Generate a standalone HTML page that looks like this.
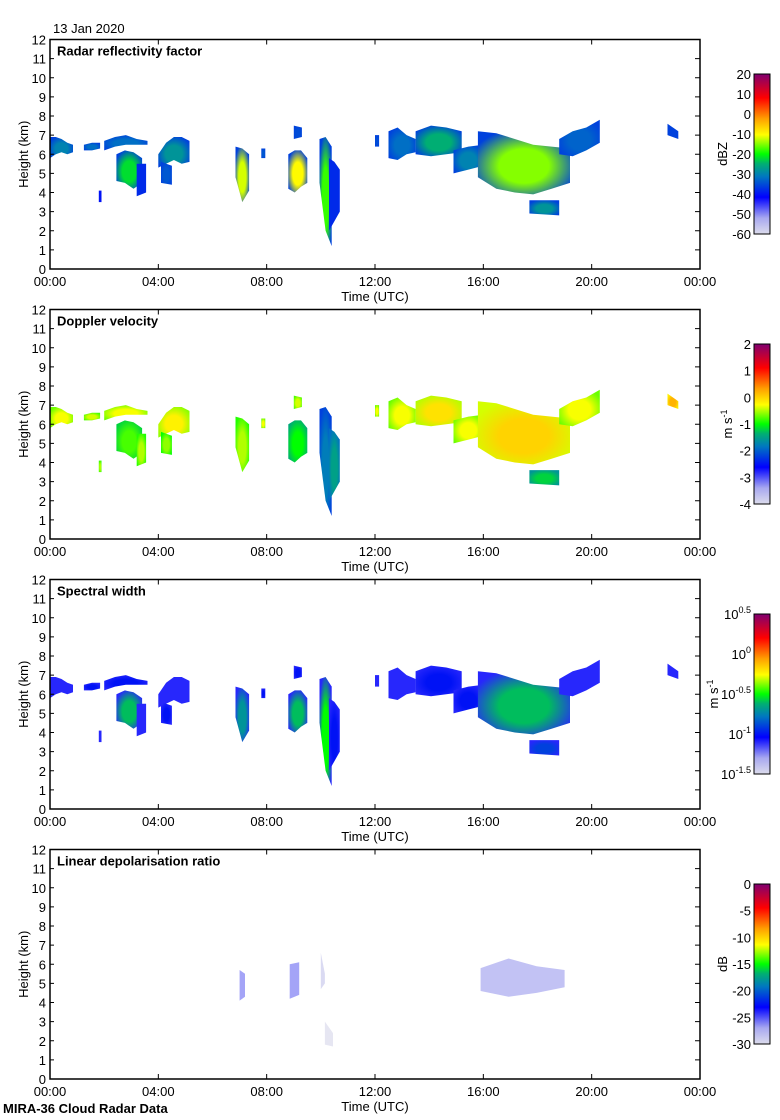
<!DOCTYPE html>
<html><head><meta charset="utf-8">
<style>
html,body{margin:0;padding:0;background:#fff;}
svg{display:block;font-family:"Liberation Sans",sans-serif;}
</style></head>
<body>
<svg id="chart" width="780" height="1120" viewBox="0 0 780 1120">
<text x="53" y="33" font-size="13">13 Jan 2020</text>
<text x="3" y="1113" font-size="13" font-weight="bold">MIRA-36 Cloud Radar Data</text>
</svg>
<script>
// ---- data ----
const panelTitles = ["Radar reflectivity factor","Doppler velocity","Spectral width","Linear depolarisation ratio"];
const xTickLabels = ["00:00","04:00","08:00","12:00","16:00","20:00","00:00"];
const yTickLabels = ["0","1","2","3","4","5","6","7","8","9","10","11","12"];
const cbRanges = [[-60,20],[-4,2],[-1.5,0.5],[-30,0]];
const cbTicks0 = ["20","10","0","-10","-20","-30","-40","-50","-60"];
const cbTicks1 = ["2","1","0","-1","-2","-3","-4"];
const cbTicks2 = ["0.5","0","-0.5","-1","-1.5"];
const cbTicks3 = ["0","-5","-10","-15","-20","-25","-30"];
const cbUnits = ["dBZ","m s-1","m s-1","dB"];
// cloud blobs: start hour, end hour, tops (km), bases (km)
const blobStart = [0,1.25,2.0,2.45,3.2,4.0,4.1,6.85,1.8,7.8,8.8,9.0,9.95,10.3,12.0,12.5,13.5,14.9,15.8,17.7,18.8,22.8];
const blobEnd   = [0.85,1.85,3.6,3.4,3.55,5.15,4.5,7.35,1.9,7.95,9.5,9.3,10.4,10.7,12.15,13.5,15.2,16.0,19.2,18.8,20.3,23.2];
const blobTops = [[6.9,6.9,6.8,6.6,6.5],[6.5,6.6,6.6],[6.7,6.9,7.0,6.8,6.7],[6.0,6.2,6.1,5.8],[5.5,5.5],[6.0,6.6,6.9,6.9,6.7],[5.6,5.4],[6.4,6.3,6.0],[4.1,4.1],[6.3,6.3],[6.0,6.2,6.2,5.8],[7.5,7.4],[6.8,6.9,6.4],[5.8,5.6,5.2],[7.0,7.0],[7.2,7.4,7.0,6.8],[7.2,7.5,7.4,7.2],[6.2,6.4,6.5],[7.2,7.1,6.8,6.5,6.4,6.3],[3.6,3.6],[6.8,7.2,7.4,7.8],[7.6,7.2]];
const blobBases = [[5.8,6.0,6.1,6.0,6.1],[6.2,6.2,6.3],[6.2,6.4,6.5,6.5,6.5],[4.6,4.5,4.2,4.5],[3.8,4.0],[5.3,5.5,5.7,5.5,5.6],[4.5,4.4],[4.8,3.5,4.1],[3.5,3.5],[5.8,5.8],[4.2,4.0,4.3,4.5],[6.8,6.9],[4.5,2.0,1.2],[2.0,2.5,3.0],[6.4,6.4],[5.8,5.7,6.0,6.1],[6.0,5.9,6.0,6.1],[5.0,5.2,5.4],[4.8,4.2,4.0,3.9,4.2,4.5],[2.9,2.8],[6.0,5.9,6.2,6.6],[7.0,6.8]];
const dbzCore = [-30,-32,-32,-22,-38,-28,-34,-12,-40,-34,-10,-35,-18,-38,-35,-32,-25,-30,-15,-28,-33,-36];
const velCore = [-0.3,-0.4,-0.3,-0.8,-0.5,-0.2,-0.6,-0.5,-0.5,-0.3,-1.0,-0.4,-1.8,-1.5,-0.3,-0.3,-0.1,-0.3,0.0,-1.2,-0.3,0.2];
const swCore  = [-1.1,-1.0,-1.0,-0.6,-1.1,-1.1,-1.0,-0.7,-1.1,-1.0,-0.6,-1.0,-0.5,-1.0,-1.1,-1.1,-1.0,-1.0,-0.6,-0.9,-1.1,-1.1];
// LDR blobs
const ldrStart = [7.0,8.85,10.0,10.15,15.9];
const ldrEnd   = [7.2,9.2,10.15,10.45,19.0];
const ldrTops  = [[5.7,5.5],[6.0,6.1],[6.6,5.5],[3.0,2.4],[5.8,6.3,5.9,5.7]];
const ldrBases = [[4.1,4.3],[4.2,4.4],[4.7,5.0],[1.8,1.7],[4.6,4.3,4.5,4.8]];
const ldrVal   = [-26,-26,-29,-30,-27];
// ---- layout ----
const svg = document.getElementById('chart');
const NS = 'http://www.w3.org/2000/svg';
const L=50,R=700,PH=229.5;
const tops=[39.5,309.5,579.5,849.5];
const cbTopY=[74,344,614,884];
const xs = t => L + t/24*(R-L);
const ys = (p,h) => tops[p]+PH - h/12*PH;
const stops=[[0,'#dcdcec'],[0.1,'#a8a8f0'],[0.23,'#0000ff'],[0.36,'#0078c0'],[0.44,'#00b070'],[0.5,'#00ff00'],[0.62,'#ffff00'],[0.72,'#ffa000'],[0.85,'#ff0000'],[1,'#800070']];
function hex(c){return [1,3,5].map(i=>parseInt(c.substr(i,2),16));}
function cmap(f){f=Math.max(0,Math.min(1,f));for(let i=1;i<stops.length;i++){if(f<=stops[i][0]){const a=stops[i-1],b=stops[i];const k=(f-a[0])/(b[0]-a[0]);const A=hex(a[1]),B=hex(b[1]);return 'rgb('+A.map((v,j)=>Math.round(v+(B[j]-v)*k)).join(',')+')';}}return stops[stops.length-1][1];}
function mk(tag,attrs,parent){const e=document.createElementNS(NS,tag);for(const k in attrs)e.setAttribute(k,attrs[k]);(parent||svg).appendChild(e);return e;}
const defs=mk('defs',{});
let gid=0;
function grad(edge,core){const id='g'+(gid++);const g=mk('radialGradient',{id:id,cx:'0.5',cy:'0.55',r:'0.6'},defs);mk('stop',{offset:'0','stop-color':core},g);mk('stop',{offset:'0.45','stop-color':core},g);mk('stop',{offset:'1','stop-color':edge},g);return id;}
function blobPath(p,t0,t1,tp,bs){const n=tp.length;let pts=[];for(let i=0;i<n;i++){const t=t0+(t1-t0)*i/(n-1);pts.push(xs(t).toFixed(1)+','+ys(p,tp[i]).toFixed(1));}for(let i=n-1;i>=0;i--){const t=t0+(t1-t0)*i/(n-1);pts.push(xs(t).toFixed(1)+','+ys(p,bs[i]).toFixed(1));}return pts.join(' ');}
function norm(p,v){const r=cbRanges[p];return (v-r[0])/(r[1]-r[0]);}
for(let p=0;p<4;p++){
  const top=tops[p];
  const g=mk('g',{});
  
  
  if(p<3){
    for(let b=0;b<blobStart.length;b++){
      let core,edge;
      if(p===0){core=cmap(norm(0,dbzCore[b]));edge=cmap(norm(0,Math.min(dbzCore[b],-36)));}
      else if(p===1){core=cmap(norm(1,velCore[b]));edge=cmap(norm(1,velCore[b]-0.4));}
      else {core=cmap(norm(2,swCore[b]));edge=cmap(norm(2,-1.1));}
      const id=grad(edge,core);
      const poly=mk('polygon',{points:blobPath(p,blobStart[b],blobEnd[b],blobTops[b],blobBases[b]),fill:'url(#'+id+')'},g);
      
      
    }
  } else {
    for(let b=0;b<ldrStart.length;b++){
      const c=cmap(norm(3,ldrVal[b]));
      const poly=mk('polygon',{points:blobPath(p,ldrStart[b],ldrEnd[b],ldrTops[b],ldrBases[b]),fill:c,'fill-opacity':'0.7'},g);
      
      
    }
  }
  const fr=mk('rect',{x:L,y:top,width:R-L,height:PH,fill:'none',stroke:'#000','stroke-width':'1.5'});
  
  
  yTickLabels.forEach((lab,i)=>{
    const y=ys(p,i);
    mk('line',{x1:L,x2:L+4,y1:y,y2:y,stroke:'#000'});
    mk('line',{x1:R-5,x2:R,y1:y,y2:y,stroke:'#000'});
    const t=mk('text',{x:L-4,y:y+5,'font-size':'13','text-anchor':'end'});
    t.textContent=lab;
    
    
  });
  xTickLabels.forEach((lab,i)=>{
    const x=xs(i*4);
    mk('line',{x1:x,x2:x,y1:top,y2:top+5,stroke:'#000'});
    mk('line',{x1:x,x2:x,y1:top+PH-5,y2:top+PH,stroke:'#000'});
    const t=mk('text',{x:x,y:top+PH+17,'font-size':'13','text-anchor':'middle'});
    t.textContent=lab;
    
    
  });
  const xt=mk('text',{x:375,y:top+PH+32,'font-size':'13','text-anchor':'middle'});
  xt.textContent='Time (UTC)';
  
  
  const yt=mk('text',{x:0,y:0,'font-size':'13','text-anchor':'middle',transform:'translate(28,'+(top+PH/2)+') rotate(-90)'});
  yt.textContent='Height (km)';
  
  
  const tt=mk('text',{x:57,y:top+16,'font-size':'13','font-weight':'bold'});
  tt.textContent=panelTitles[p];
  
  
  const cy=cbTopY[p],ch=160,cx=754,cw=16;
  const lg=mk('linearGradient',{id:'cb'+p,x1:'0',y1:'1',x2:'0',y2:'0'},defs);
  stops.forEach(s=>mk('stop',{offset:s[0],'stop-color':s[1]},lg));
  const cb=mk('rect',{x:cx,y:cy,width:cw,height:ch,fill:'url(#cb'+p+')',stroke:'#000','stroke-width':'1'});
  
  
  const ticks=[cbTicks0,cbTicks1,cbTicks2,cbTicks3][p];
  ticks.forEach((lab,i)=>{
    const y=cy+ch*i/(ticks.length-1);
    const t=mk('text',{x:751,y:y+5,'font-size':'13','text-anchor':'end'});
    if(p===2){t.textContent='10';const s=mk('tspan',{dy:'-6','font-size':'9'},t);s.textContent=lab;}
    else t.textContent=lab;
    
    
  });
  const ux=[727,732,718,727][p];
  const u=mk('text',{x:0,y:0,'font-size':'13','text-anchor':'middle',transform:'translate('+ux+','+(cy+ch/2)+') rotate(-90)'});
  if(cbUnits[p]==='m s-1'){u.textContent='m s';const s=mk('tspan',{dy:'-5','font-size':'9'},u);s.textContent='-1';}
  else u.textContent=cbUnits[p];
  
  
}
</script>
</body></html>
